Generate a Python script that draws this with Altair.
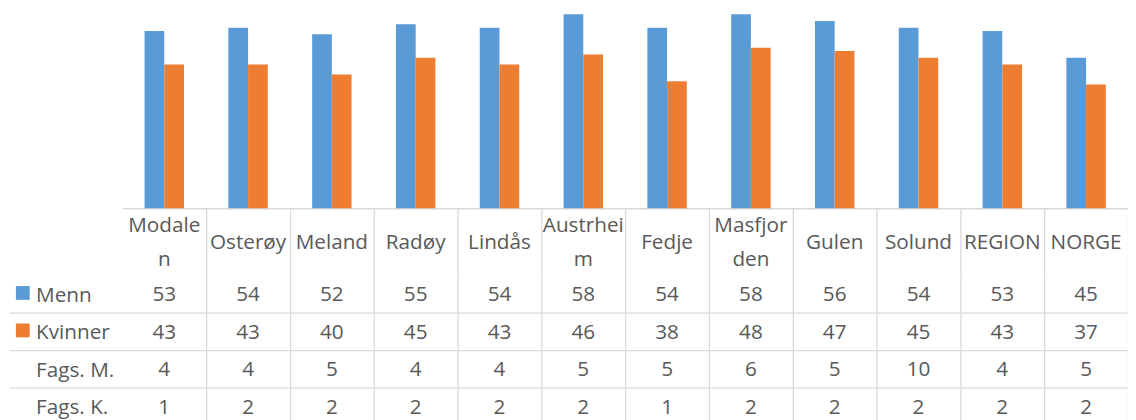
import altair as alt
import pandas as pd

categories = ["Modalen", "Osterøy", "Meland", "Radøy", "Lindås", "Austrheim",
              "Fedje", "Masfjorden", "Gulen", "Solund", "REGION", "NORGE"]
header_labels = ["Modale\nn", "Osterøy", "Meland", "Radøy", "Lindås", "Austrhei\nm",
                 "Fedje", "Masfjor\nden", "Gulen", "Solund", "REGION", "NORGE"]
menn = [53, 54, 52, 55, 54, 58, 54, 58, 56, 54, 53, 45]
kvinner = [43, 43, 40, 45, 43, 46, 38, 48, 47, 45, 43, 37]
fags_m = [4, 4, 5, 4, 4, 5, 5, 6, 5, 10, 4, 5]
fags_k = [1, 2, 2, 2, 2, 2, 1, 2, 2, 2, 2, 2]
row_labels = ["Menn", "Kvinner", "Fags. M.", "Fags. K."]
bar_series = ["Menn", "Kvinner"]
colors = ["#5B9BD5", "#ED7D31"]

FONT = "Open Sans"
FS = 21
TXT = "#595959"
LINE = "#d9d9d9"

bars_df = pd.DataFrame(
    [{"category": c, "series": "Menn", "value": v} for c, v in zip(categories, menn)]
    + [{"category": c, "series": "Kvinner", "value": v} for c, v in zip(categories, kvinner)]
)
rows_values = {"Menn": menn, "Kvinner": kvinner, "Fags. M.": fags_m, "Fags. K.": fags_k}
table_df = pd.DataFrame(
    [{"category": c, "row": r, "value": v}
     for r in row_labels for c, v in zip(categories, rows_values[r])]
)
header_records = []
for c, lab in zip(categories, header_labels):
    parts = lab.split("\n")
    if len(parts) == 1:
        header_records.append({"category": c, "text": parts[0], "slot": "single"})
    else:
        header_records.append({"category": c, "text": parts[0], "slot": "top"})
        header_records.append({"category": c, "text": parts[1], "slot": "bottom"})
header_df = pd.DataFrame(header_records)
slots = ["top", "single", "bottom"]

W = 1020

bars = alt.Chart(bars_df).mark_bar().encode(
    x=alt.X("category:N", sort=categories,
            scale=alt.Scale(paddingInner=45 / 85, paddingOuter=45 / 170),
            axis=alt.Axis(labels=False, ticks=False, title=None, grid=False,
                          domainColor=LINE, domainWidth=1.5)),
    xOffset=alt.XOffset("series:N", sort=bar_series,
                        scale=alt.Scale(paddingInner=0, paddingOuter=0)),
    y=alt.Y("value:Q", scale=alt.Scale(domain=[0, 59]), axis=None),
    color=alt.Color("series:N", sort=bar_series,
                    scale=alt.Scale(domain=bar_series, range=colors),
                    legend=alt.Legend(orient="none", legendX=-108, legendY=279,
                                      title=None, symbolType="square", symbolSize=196,
                                      symbolStrokeWidth=0, labelExpr="''",
                                      labelFontSize=1, rowPadding=24, padding=0)),
).properties(width=W, height=200)

hide_extra = {"condition": {"test": "datum.extra", "value": "transparent"}, "value": LINE}

x_table = alt.X("category:N", sort=categories,
                scale=alt.Scale(type="band", paddingInner=0, paddingOuter=0),
                axis=alt.Axis(labels=False, ticks=False, domain=False, title=None,
                              grid=True, tickBand="extent", gridColor=hide_extra,
                              gridWidth=1.3))

header = alt.Chart(header_df).mark_text(
    font=FONT, fontSize=FS, color=TXT, baseline="middle", dy=1.5
).encode(
    x=x_table,
    y=alt.Y("slot:N", sort=slots, scale=alt.Scale(type="point", domain=slots, padding=1.52),
            axis=None),
    text="text:N",
).properties(width=W, height=68)

rows = alt.Chart(table_df).mark_text(
    font=FONT, fontSize=FS, color=TXT, baseline="middle", dy=1.5
).encode(
    x=x_table,
    y=alt.Y("row:N", sort=row_labels,
            scale=alt.Scale(type="band", paddingInner=0, paddingOuter=0),
            axis=alt.Axis(title=None, domain=False, ticks=True, tickSize=115,
                          tickBand="extent", tickColor=hide_extra, tickWidth=1.3,
                          grid=True, gridColor=hide_extra, gridWidth=1.3,
                          labelAlign="left", labelPadding=-27, labelFont=FONT,
                          labelFontSize=FS, labelColor=TXT, labelBaseline="middle",
                          labelLimit=200, labelOffset=1.5)),
    text="value:Q",
).properties(width=W, height=152)

chart = alt.vconcat(bars, header, rows, spacing=0, bounds="flush").resolve_scale(
    color="independent"
).properties(padding=0).configure(font=FONT).configure_view(
    strokeWidth=0, stroke=None
)

chart.save("out.html", embed_options={"renderer": "svg", "actions": False})
